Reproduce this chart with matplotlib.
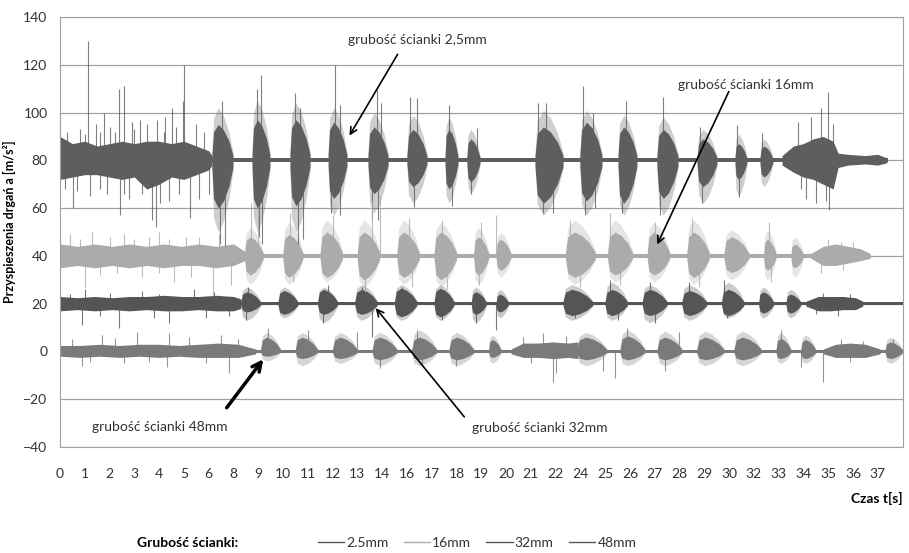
import matplotlib.pyplot as plt
from matplotlib.lines import Line2D

plt.rcParams['font.family'] = ['Lato', 'DejaVu Sans']

# oś x: etykiety kategorii tak jak w oryginale (Excel pomija 7, 15, 23, 31)
tick_labels = ['0', '1', '2', '3', '4', '5', '6', '8', '9', '10', '11', '12', '13',
               '14', '16', '17', '18', '19', '20', '21', '22', '24', '25', '26', '27',
               '28', '29', '30', '32', '33', '34', '35', '36', '37']

names = ['2.5mm', '16mm', '32mm', '48mm']
baselines = [80, 40, 20, 0]
ends = [33.4, 32.7, 34.0, 34.0]
quiet = [0.9, 0.7, 0.6, 0.5]
colors = ['#5e5e5e', '#ababab', '#555555', '#7a7a7a']

# krótkie paczki drgań: (początek, koniec, rdzeń góra, rdzeń dół, rozrzut góra, rozrzut dół)
bursts_25 = [(6.13, 6.98, 95, 60, 102, 50),
             (7.75, 8.47, 97, 60, 105, 50), (9.28, 10.09, 97, 61, 104, 50),
             (10.82, 11.58, 96, 64, 102, 57), (12.43, 13.24, 94, 66, 100, 58),
             (14.0, 14.81, 93, 69, 99, 62), (15.54, 16.06, 93, 68, 98, 62),
             (16.42, 16.95, 89, 71, 93, 66), (19.17, 20.3, 94, 62, 101, 57),
             (20.98, 21.87, 96, 63, 101, 57), (22.52, 23.28, 94, 62, 99, 57),
             (24.09, 24.94, 93, 64, 98, 57), (25.71, 26.51, 89, 69, 93, 62),
             (27.24, 27.72, 87, 72, 91, 65), (28.25, 28.77, 86, 73, 89, 69)]
# długie odcinki szumu: (czas, góra, dół)
noise_25 = [[(0.0, 90, 72), (0.5, 87, 73), (1.0, 88, 74), (1.5, 86, 74), (2.0, 87, 73),
             (2.5, 88, 72), (3.0, 87, 73), (3.5, 88, 68), (4.0, 88, 70), (4.5, 87, 73),
             (5.0, 88, 72), (5.5, 86, 74), (6.0, 84, 76), (6.13, 82, 78)],
            [(29.14, 82, 78), (29.6, 86, 75), (30.0, 87, 73), (30.4, 89, 72),
             (30.8, 90, 70), (31.2, 88, 68), (31.4, 83, 77), (31.8, 82.5, 78),
             (32.5, 82, 78.5), (33.0, 82.5, 78), (33.37, 81, 79)]]
spikes_25 = [(0.0, 97), (1.13, 130), (1.45, 95), (1.78, 100), (2.38, 110), (2.58, 111),
             (3.23, 97), (4.24, 98), (4.52, 102), (4.96, 105), (5.0, 120),
             (0.3, 92), (0.8, 93), (1.6, 92), (2.0, 94), (2.9, 96), (3.5, 95), (3.9, 97),
             (4.7, 94), (5.5, 95), (5.8, 92), (0.2, 68), (1.2, 65), (1.9, 66), (2.8, 64),
             (3.3, 66), (4.4, 63), (5.6, 64), (6.0, 66), (1.0, 91), (2.2, 92), (3.0, 93),
             (4.2, 92), (0.7, 67), (1.6, 68), (2.6, 66), (4.8, 66),
             (0.52, 60), (2.42, 57), (3.71, 55), (3.87, 52), (4.04, 62), (5.25, 56),
             (6.55, 105), (6.45, 45), (6.65, 44), (8.1, 115.7), (7.95, 110), (8.15, 45),
             (8.05, 48), (9.5, 108), (9.7, 102), (9.6, 45), (9.8, 47), (11.1, 120),
             (11.3, 103), (10.95, 58), (11.3, 57), (12.78, 109.5), (12.95, 104),
             (12.6, 55), (12.85, 55), (14.12, 106.5), (14.4, 106), (14.3, 60.5),
             (15.7, 103), (15.8, 61), (16.83, 93.5), (16.6, 66), (19.27, 104),
             (19.6, 104), (19.5, 58), (19.9, 58), (21.1, 111), (21.5, 100), (21.2, 57),
             (21.6, 60), (22.84, 105), (22.7, 58), (24.34, 106.5), (24.2, 57),
             (25.83, 94), (25.9, 62), (27.32, 94.8), (27.4, 64.7), (28.33, 91.4),
             (30.98, 108.6), (30.7, 102), (30.3, 98), (29.8, 96), (31.05, 59), (30.5, 62),
             (30.1, 64), (30.9, 63), (29.9, 68), (31.2, 95)]

bursts_16 = [(7.45, 8.2, 48, 32, 52, 28),
             (9.0, 9.8, 49, 31, 54, 28), (10.5, 11.4, 50, 31, 55, 29),
             (12.0, 12.9, 50, 30, 55, 27), (13.6, 14.5, 50, 31, 55, 28),
             (15.1, 16.0, 50, 30, 54, 27), (16.7, 17.3, 48, 32, 52, 28),
             (17.6, 18.2, 47, 34, 50, 31), (20.4, 21.6, 50, 31, 55, 28),
             (22.1, 23.1, 50, 32, 55, 29), (23.7, 24.6, 50, 32, 54, 29),
             (25.3, 26.2, 50, 31, 55, 28), (26.8, 27.8, 48, 33, 51, 30),
             (28.4, 28.9, 47, 34, 51, 30), (29.5, 30.0, 45, 35, 48, 31)]
noise_16 = [[(0.0, 45, 35), (0.7, 44, 36), (1.4, 45, 35), (2.1, 44, 36), (2.8, 45, 35),
             (3.5, 44, 36), (4.2, 45, 35), (4.9, 44, 36), (5.6, 45, 36), (6.3, 44, 35),
             (7.0, 45, 36), (7.45, 42, 38)],
            [(30.3, 41, 39), (30.8, 44, 36), (31.3, 45, 36), (31.8, 44, 37),
             (32.3, 43, 38), (32.7, 41, 39)]]
spikes_16 = [(0.4, 49), (1.3, 50), (2.6, 49), (4.0, 50), (5.1, 48), (1.0, 27), (4.6, 29),
             (6.16, 23), (3.3, 31), (6.9, 28), (0.8, 47), (2.0, 48), (3.0, 47), (3.6, 48),
             (4.4, 47), (5.6, 48), (6.4, 49), (1.6, 32), (2.3, 33), (4.0, 33), (5.3, 31),
             (7.7, 62), (8.0, 60), (9.3, 58), (11.0, 57),
             (12.6, 63), (12.9, 65), (14.1, 56), (15.4, 55), (17.0, 54), (17.6, 57),
             (20.6, 55), (22.2, 58), (24.0, 54), (25.5, 56), (28.6, 54), (31.0, 47),
             (31.5, 46), (32.0, 46), (30.7, 33), (31.6, 34),
             (9.4, 29), (12.3, 25), (14.2, 27), (15.6, 26), (16.9, 28), (21.0, 27),
             (22.6, 28), (25.8, 27), (28.7, 29)]

bursts_32 = [(7.3, 8.1, 25, 16.5, 27, 13),
             (8.8, 9.6, 25.5, 15.5, 27, 14), (10.4, 11.2, 26, 15.5, 27, 12),
             (11.9, 12.8, 26, 15.5, 28, 13), (13.5, 14.4, 26.5, 14.5, 28, 13),
             (15.1, 15.9, 26.5, 14.5, 28, 13), (16.6, 17.2, 25, 15.5, 27, 12),
             (17.6, 18.1, 24, 16.5, 26, 14), (20.3, 21.5, 26, 15, 28, 13),
             (22.0, 22.9, 26, 15, 29, 13), (23.5, 24.5, 26, 15, 28, 12),
             (25.1, 26.1, 25.5, 15, 28, 13), (26.7, 27.6, 26, 15, 29, 14),
             (28.2, 28.8, 25, 16, 27, 14), (29.3, 29.9, 24, 16, 26, 14)]
noise_32 = [[(0.0, 23, 17), (0.7, 22.5, 17.5), (1.4, 23, 17), (2.1, 22.5, 17.5),
             (2.8, 23, 17), (3.5, 23, 17.5), (4.2, 23.5, 17), (4.9, 23, 17),
             (5.6, 23, 17.5), (6.3, 23.5, 17), (7.0, 23, 17), (7.3, 22, 18)],
            [(30.1, 21, 19), (30.6, 23, 17), (31.1, 23, 17), (31.6, 23, 17.5),
             (32.1, 22.5, 17.5), (32.4, 21, 19)]]
spikes_32 = [(1.0, 26), (3.3, 25.5), (5.4, 26), (7.6, 27), (10.8, 28), (12.2, 27),
             (13.8, 27), (22.2, 30), (23.8, 29), (25.4, 29), (26.8, 30), (0.9, 11),
             (2.4, 10), (4.4, 12), (7.5, 13), (10.6, 12), (12.6, 6), (15.4, 13),
             (16.8, 12), (17.6, 9), (20.8, 14), (22.5, 13), (24.0, 12), (26.9, 14),
             (31.4, 15), (0.4, 24), (2.0, 24.5), (4.0, 24), (6.2, 25), (1.6, 15),
             (3.8, 14), (5.9, 14), (6.8, 15), (30.8, 24.5), (31.9, 24), (30.5, 15.5)]

bursts_48 = [(8.1, 8.9, 6, -2, 8, -4),
             (9.5, 10.4, 6, -3, 8, -6), (11.0, 12.0, 6, -3, 8, -5),
             (12.6, 13.6, 6, -3.5, 8, -6), (14.2, 15.2, 6, -3.5, 9, -6),
             (15.7, 16.7, 6, -3.5, 8, -6), (17.3, 17.8, 5, -2.5, 7, -5),
             (20.86, 22.07, 6, -3.5, 8, -6),
             (22.6, 23.6, 6.5, -3.5, 9, -6), (24.1, 25.1, 6, -3.5, 8.5, -6),
             (25.7, 26.8, 6, -3.5, 8.5, -6), (27.2, 28.3, 6, -3.5, 8.5, -6),
             (28.9, 29.5, 5.5, -3, 8, -5), (29.9, 30.5, 5, -3, 7, -5),
             (33.3, 34.0, 4, -3, 6, -5)]
noise_48 = [[(0.0, 2.5, -2), (0.8, 2.5, -2.5), (1.6, 3, -2), (2.4, 2.5, -2.5),
             (3.2, 3, -2), (4.0, 3, -2.5), (4.8, 2.5, -2), (5.6, 3, -2.5),
             (6.4, 3.5, -2.5), (7.2, 3, -2.5), (7.9, 1, -1)],
            [(18.2, 1, -1), (18.7, 3.5, -2.5), (19.3, 3.5, -2.5), (19.9, 4, -3),
             (20.5, 3.5, -2.5), (20.9, 4, -3)],
            [(30.8, 1, -1), (31.3, 3, -2.5), (31.9, 3.5, -2.5), (32.5, 3, -2.5),
             (33.1, 1, -1)]]
spikes_48 = [(1.7, 7), (3.1, 8), (4.4, 7.7), (6.5, 7), (8.4, 9.8), (10.0, 9), (12.0, 8.3),
             (14.4, 8.9), (19.5, 7.7), (22.9, 10), (25.0, 8), (29.1, 9), (33.6, 5),
             (0.9, -6), (2.6, -5), (4.3, -6.5), (6.8, -9), (12.9, -7), (14.6, -6),
             (16.0, -6), (20.0, -9), (19.9, -13), (21.9, -8), (22.4, -11), (24.4, -8),
             (29.9, -6.5), (30.8, -13), (0.5, 5), (2.2, 5.5), (5.2, 6), (7.2, 5),
             (18.7, 6), (20.4, 6.5), (31.5, 5), (32.4, 4.5), (1.2, -4.5), (3.6, -4.5),
             (5.9, -5), (19.0, -5), (31.9, -4.5)]

all_bursts = [bursts_25, bursts_16, bursts_32, bursts_48]
all_noise = [noise_25, noise_16, noise_32, noise_48]
all_spikes = [spikes_25, spikes_16, spikes_32, spikes_48]


def draw_series(ax, bursts, noise, spikes, base, end, q, color):
    # spokojny przebieg wokół linii bazowej
    ax.fill_between([0, end], [base - q] * 2, [base + q] * 2, color=color, lw=0)
    for seg in noise:
        ax.fill_between([p[0] for p in seg], [p[2] for p in seg], [p[1] for p in seg],
                        color=color, lw=0)
    for t0, t1, hi, lo, hi2, lo2 in bursts:
        # obwiednia paczki w kształcie wrzeciona
        w = t1 - t0
        xs = [t0, t0 + 0.08 * w, t0 + 0.3 * w, t0 + 0.55 * w, t0 + 0.8 * w, t1]
        f = [0.15, 0.8, 1, 0.85, 0.55, 0.15]
        ax.fill_between(xs, [base + (lo2 - base) * k for k in f],
                        [base + (hi2 - base) * k for k in f],
                        color=color, alpha=0.3, lw=0)
        ax.fill_between(xs, [base + (lo - base) * k for k in f],
                        [base + (hi - base) * k for k in f],
                        color=color, lw=0)
    ax.vlines([s[0] for s in spikes], base, [s[1] for s in spikes],
              color=color, lw=0.8, alpha=0.8)


fig = plt.figure(figsize=(9.09, 5.53), dpi=100)
ax = fig.add_axes([60 / 909, 1 - 447 / 553, 843 / 909, 430 / 553])

for i in range(4):
    draw_series(ax, all_bursts[i], all_noise[i], all_spikes[i], baselines[i], ends[i],
                quiet[i], colors[i])

ax.set_xlim(0, 34.02)
ax.set_ylim(-40, 140)
ax.set_yticks(range(-40, 141, 20))
ax.set_xticks(range(len(tick_labels)))
ax.set_xticklabels(tick_labels)
ax.tick_params(length=0, labelsize=10, colors='#333333')
ax.tick_params(axis='y', pad=9)
ax.tick_params(axis='x', pad=15)
ax.grid(axis='y', color='#a0a0a0', lw=0.9)
ax.set_axisbelow(True)
for s in ax.spines.values():
    s.set_color('#a0a0a0')

ax.set_ylabel('Przyspieszenia drgań a [m/s²]', fontsize=9, fontweight='bold')
ax.yaxis.set_label_coords(-0.052, 0.523)
fig.text(903 / 909, 1 - 498 / 553, 'Czas t[s]', fontsize=10, fontweight='bold',
         ha='right', va='center')


def fp(px, py):
    return (px, 553 - py)


notes = [('grubość ścianki 2,5mm', (417, 40), (399, 52), (348, 138), 1.2),
         ('grubość ścianki 16mm', (746, 85), (730, 89), (656, 247), 1.2),
         ('grubość ścianki 48mm', (160, 427), (225, 410), (265, 357), 2.5),
         ('grubość ścianki 32mm', (540, 428), (466, 419), (374, 306), 1.2)]
for label, pos, start, tip, lw in notes:
    fig.text(pos[0] / 909, 1 - pos[1] / 553, label, fontsize=10, color='#333333',
             ha='center', va='center')
    ax.annotate('', xy=fp(*tip), xytext=fp(*start), xycoords='figure pixels',
                textcoords='figure pixels',
                arrowprops=dict(arrowstyle='->', color='black', lw=lw,
                                mutation_scale=12 if lw < 2 else 16))

# legenda
fig.text(188 / 909, 1 - 543 / 553, 'Grubość ścianki:', fontsize=10, fontweight='bold',
         ha='center', va='center')
handles = [Line2D([0], [0], color=c, lw=1) for c in ['#595959', '#ababab', '#595959', '#595959']]
fig.legend(handles, ['2.5mm', '16mm', '32mm', '48mm'], ncol=4, frameon=False,
           loc='center left', bbox_to_anchor=(305 / 909, 1 - 543 / 553),
           fontsize=10, handlelength=1.9, handletextpad=0.15, columnspacing=1.1,
           labelcolor='#333333')

fig.savefig('out.png', dpi=100)
